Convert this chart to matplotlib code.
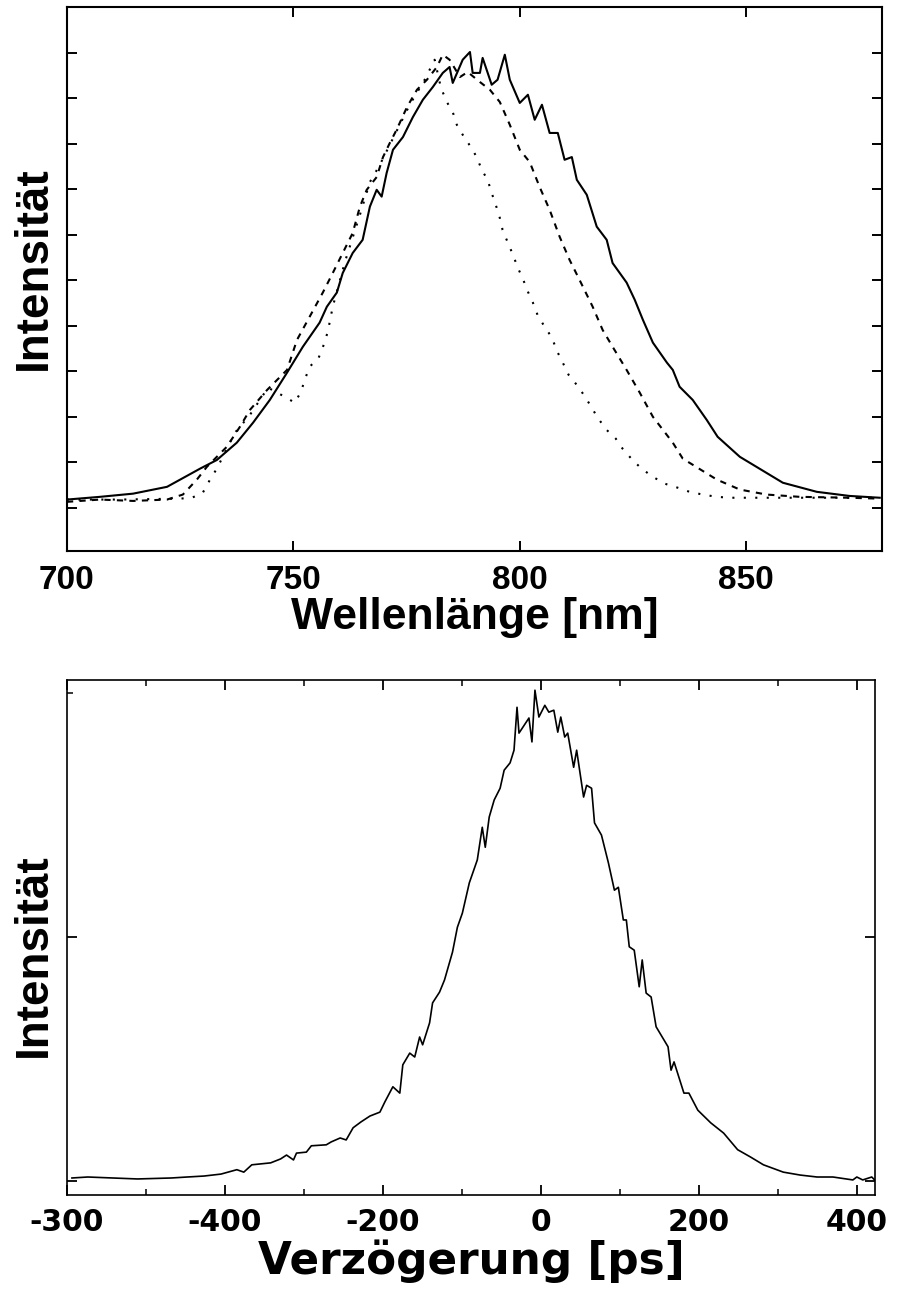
import matplotlib
matplotlib.use('Agg')
from matplotlib import pyplot as plt
from matplotlib.ticker import FixedLocator, NullFormatter

plt.rcParams['font.family'] = ['Liberation Sans', 'DejaVu Sans']
plt.rcParams['font.weight'] = 'bold'

# --- top panel: spectra ---
solid_x = [700.0, 707.3, 714.6, 722.1, 729.4, 733.1, 737.5, 741.1, 744.8, 748.6,
           752.1, 755.8, 757.4, 759.6, 760.9, 763.1, 765.3, 766.9, 768.4, 769.5,
           770.6, 772.0, 774.2, 776.4, 778.6, 780.8, 783.0, 784.5, 785.2, 787.4,
           789.0, 789.6, 791.2, 791.8, 793.8, 795.1, 796.7, 797.8, 800.0, 801.8,
           803.3, 804.9, 806.6, 808.4, 809.9, 811.5, 812.6, 814.8, 817.0, 819.2,
           820.5, 823.6, 825.4, 827.2, 829.4, 832.5, 833.8, 835.3, 838.2, 841.3,
           843.7, 848.6, 858.1, 865.6, 872.8, 879.5]
solid_y = [0.018, 0.024, 0.031, 0.046, 0.086, 0.105, 0.143, 0.187, 0.237, 0.297,
           0.354, 0.407, 0.442, 0.473, 0.516, 0.560, 0.589, 0.662, 0.699, 0.684,
           0.736, 0.787, 0.815, 0.859, 0.897, 0.925, 0.956, 0.969, 0.934, 0.985,
           1.002, 0.956, 0.956, 0.989, 0.930, 0.941, 0.996, 0.941, 0.890, 0.908,
           0.853, 0.886, 0.824, 0.824, 0.765, 0.771, 0.721, 0.688, 0.618, 0.589,
           0.538, 0.495, 0.457, 0.413, 0.363, 0.319, 0.303, 0.266, 0.237, 0.193,
           0.156, 0.112, 0.055, 0.035, 0.026, 0.022]

dash_x = [700.0, 707.3, 714.6, 722.1, 725.6, 728.7, 730.9, 735.3, 738.2, 740.4,
          744.2, 748.6, 750.8, 753.6, 756.5, 758.7, 760.9, 763.1, 764.7, 766.2,
          768.4, 769.8, 771.3, 772.8, 775.1, 777.3, 779.5, 781.7, 783.0, 784.5,
          786.8, 788.5, 791.2, 793.4, 795.6, 797.8, 800.0, 802.2, 804.4, 806.6,
          808.8, 811.0, 813.2, 816.1, 818.3, 820.5, 823.6, 826.5, 829.4, 833.8,
          836.0, 843.5, 848.6, 854.5, 861.8, 872.8, 879.5]
dash_y = [0.013, 0.018, 0.015, 0.018, 0.029, 0.062, 0.090, 0.134, 0.178, 0.215,
          0.259, 0.303, 0.369, 0.420, 0.473, 0.516, 0.560, 0.604, 0.662, 0.699,
          0.727, 0.771, 0.802, 0.831, 0.881, 0.919, 0.941, 0.969, 0.996, 0.985,
          0.947, 0.958, 0.936, 0.919, 0.892, 0.842, 0.787, 0.760, 0.705, 0.655,
          0.596, 0.545, 0.501, 0.442, 0.391, 0.354, 0.303, 0.253, 0.200, 0.143,
          0.108, 0.062, 0.040, 0.029, 0.024, 0.022, 0.020]

dot_x = [700.0, 711.7, 724.9, 727.6, 730.0, 731.6, 733.1, 737.1, 740.4, 744.4,
         748.1, 750.3, 751.7, 752.5, 753.6, 755.6, 756.7, 757.6, 758.7, 761.4,
         764.7, 766.9, 769.1, 772.4, 775.7, 779.0, 781.2, 782.6, 783.9, 785.2,
         786.1, 787.4, 789.0, 790.5, 791.6, 792.9, 793.8, 794.7, 795.6, 796.2,
         797.4, 798.5, 799.6, 800.7, 801.8, 802.9, 804.0, 805.5, 807.1, 808.2,
         809.5, 810.8, 812.6, 814.3, 815.9, 817.2, 819.2, 821.2, 822.7, 824.9,
         826.9, 829.4, 832.0, 834.9, 837.5, 840.4, 843.5, 846.4, 849.2, 855.2,
         865.6, 879.5]
dot_y = [0.018, 0.018, 0.020, 0.022, 0.033, 0.062, 0.086, 0.165, 0.204, 0.264,
         0.244, 0.231, 0.255, 0.281, 0.310, 0.330, 0.358, 0.387, 0.442, 0.541,
         0.644, 0.716, 0.754, 0.820, 0.886, 0.941, 0.985, 0.923, 0.892, 0.870,
         0.842, 0.820, 0.796, 0.771, 0.743, 0.721, 0.692, 0.666, 0.637, 0.611,
         0.582, 0.556, 0.527, 0.503, 0.475, 0.451, 0.422, 0.398, 0.374, 0.345,
         0.319, 0.292, 0.270, 0.246, 0.220, 0.198, 0.171, 0.152, 0.130, 0.105,
         0.086, 0.068, 0.053, 0.044, 0.035, 0.029, 0.024, 0.022, 0.022, 0.022,
         0.022, 0.022]

# --- bottom panel: autocorrelation ---
delay = [-593.7, -573.6, -510.7, -467.9, -447.8, -426.4, -405.0, -384.9, -376.1, -366.0,
         -342.1, -329.6, -322.0, -313.2, -309.4, -296.9, -290.6, -271.7, -265.4, -254.1,
         -246.5, -237.7, -227.7, -216.4, -203.8, -197.5, -187.4, -178.6, -174.8, -166.0,
         -159.7, -153.5, -149.7, -140.9, -137.1, -128.3, -122.0, -111.9, -105.7, -99.4,
         -90.6, -80.5, -74.2, -70.4, -65.4, -59.1, -51.6, -46.5, -39.0, -34.0,
         -30.2, -27.7, -15.1, -11.3, -7.5, -2.5, 5.0, 10.1, 16.4, 21.4,
         25.2, 30.2, 34.0, 41.5, 45.3, 54.1, 57.9, 64.2, 67.9, 76.7,
         85.5, 93.1, 98.1, 104.4, 108.2, 111.9, 118.2, 124.5, 128.3, 133.3,
         139.6, 145.9, 161.0, 164.8, 168.6, 181.1, 187.4, 198.7, 215.1, 231.4,
         249.1, 265.4, 281.8, 306.9, 328.3, 349.7, 369.8, 395.0, 400.0, 407.5,
         418.9, 422.6]
signal = [0.006, 0.008, 0.004, 0.006, 0.008, 0.010, 0.014, 0.023, 0.018, 0.033,
          0.037, 0.045, 0.053, 0.043, 0.057, 0.059, 0.072, 0.074, 0.080, 0.088,
          0.084, 0.109, 0.121, 0.133, 0.141, 0.162, 0.193, 0.180, 0.238, 0.262,
          0.254, 0.295, 0.279, 0.324, 0.365, 0.387, 0.412, 0.469, 0.520, 0.549,
          0.611, 0.658, 0.725, 0.684, 0.746, 0.781, 0.805, 0.842, 0.857, 0.883,
          0.971, 0.918, 0.949, 0.900, 1.006, 0.951, 0.975, 0.961, 0.965, 0.920,
          0.951, 0.910, 0.918, 0.848, 0.883, 0.787, 0.811, 0.805, 0.734, 0.709,
          0.652, 0.596, 0.602, 0.535, 0.535, 0.480, 0.473, 0.398, 0.453, 0.385,
          0.377, 0.316, 0.275, 0.227, 0.244, 0.180, 0.180, 0.145, 0.119, 0.098,
          0.064, 0.049, 0.033, 0.018, 0.012, 0.008, 0.008, 0.002, 0.008, 0.002,
          0.008, 0.002]

top_xticks = [700, 750, 800, 850]
bot_xticks = [-600, -400, -200, 0, 200, 400]
bot_xlabels = ['-300', '-400', '-200', '0', '200', '400']
bot_xminor = [-500, -300, -100, 100, 300]

wide = ['DejaVu Sans']

fig = plt.figure(figsize=(9, 12.9), dpi=100)
ax1 = fig.add_axes([0.0744, 0.5729, 0.9056, 0.4217])
ax2 = fig.add_axes([0.0744, 0.0736, 0.8978, 0.3993])

ax1.plot(solid_x, solid_y, '-', color='black', lw=1.5)
ax1.plot(dash_x, dash_y, color='black', lw=1.5, linestyle=(0, (3, 3)))
ax1.plot(dot_x, dot_y, color='black', lw=1.5, linestyle=(0, (1, 4.5)))
ax1.set_xlim(700, 880)
ax1.set_ylim(-0.095, 1.101)
ax1.set_xticks(top_xticks)
ax1.set_yticks([i / 10 for i in range(11)])
ax1.yaxis.set_major_formatter(NullFormatter())
ax1.tick_params(direction='in', length=7, width=1.4, top=True, right=True,
                labelsize=24, pad=10)
ax1.set_xlabel('Wellenlänge [nm]', fontsize=32, fontweight='bold', labelpad=1)
ax1.set_ylabel('Intensität', fontsize=33, fontweight='bold')
ax1.yaxis.set_label_coords(-0.014, 0.52)
for s in ax1.spines.values():
    s.set_linewidth(1.5)

ax2.plot(delay, signal, '-', color='black', lw=1.2)
ax2.set_xlim(-600, 423)
ax2.set_ylim(-0.029, 1.027)
ax2.set_xticks(bot_xticks)
ax2.set_xticklabels(bot_xlabels, family=wide, fontweight='bold')
ax2.xaxis.set_minor_locator(FixedLocator(bot_xminor))
ax2.set_yticks([0, 0.5])
ax2.yaxis.set_minor_locator(FixedLocator([1.0]))
ax2.yaxis.set_major_formatter(NullFormatter())
ax2.tick_params(which='major', direction='in', length=7, width=1.3, top=True,
                right=True, labelsize=21.5, pad=9)
ax2.tick_params(which='minor', direction='in', length=4, width=1.1, top=True,
                right=False)
ax2.set_xlabel('Verzögerung [ps]', fontsize=31.5, fontweight='bold',
               family=wide, labelpad=2)
ax2.set_ylabel('Intensität', fontsize=33, fontweight='bold')
ax2.yaxis.set_label_coords(-0.014, 0.466)
for s in ax2.spines.values():
    s.set_linewidth(1.2)

for lab in ax1.get_xticklabels():
    lab.set_fontweight('bold')

plt.savefig('out.png', dpi=100)
